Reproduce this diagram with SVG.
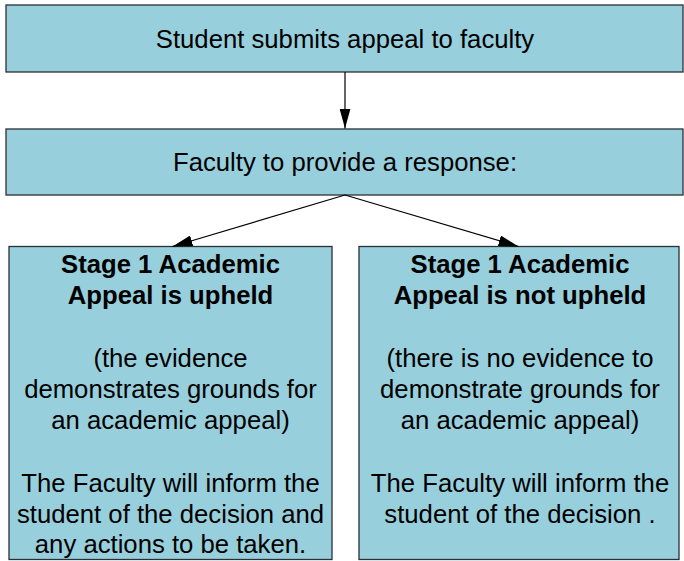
<svg xmlns="http://www.w3.org/2000/svg" width="684" height="561" viewBox="0 0 684 561">
<style>
.box{fill:#98cfdc;stroke:#2a3035;stroke-width:1.3}
.t{font-family:"Liberation Sans",Arial,sans-serif;font-size:25.7px;fill:#000;text-anchor:middle}
.b{font-weight:bold}
.c{stroke:#000;stroke-width:1.2;fill:none}
</style>
<defs>
<marker id="ah" markerUnits="userSpaceOnUse" markerWidth="20" markerHeight="11" refX="20" refY="5.5" orient="auto">
<path d="M0,0 L20,5.5 L0,11 z" fill="#000"/>
</marker>
</defs>
<g id="n1">
<rect class="box" x="6" y="5" width="677" height="67"/>
<text class="t" x="345" y="48">Student submits appeal to faculty</text>
</g>
<g id="n2">
<rect class="box" x="6" y="129" width="677" height="66"/>
<text class="t" x="345" y="170.5">Faculty to provide a response:</text>
</g>
<g id="n3">
<rect class="box" x="9" y="246.5" width="323" height="313"/>
<text class="t b" x="170.5" y="273.3">Stage 1 Academic</text>
<text class="t b" x="170.5" y="304.4">Appeal is upheld</text>
<text class="t" x="170.5" y="366.6">(the evidence</text>
<text class="t" x="170.5" y="397.7">demonstrates grounds for</text>
<text class="t" x="170.5" y="428.8">an academic appeal)</text>
<text class="t" x="170.5" y="491.7">The Faculty will inform the</text>
<text class="t" x="170.5" y="522.7">student of the decision and</text>
<text class="t" x="170.5" y="553.3">any actions to be taken.</text>
</g>
<g id="n4">
<rect class="box" x="359" y="246.5" width="320" height="313"/>
<text class="t b" x="520" y="273.3">Stage 1 Academic</text>
<text class="t b" x="520" y="304.4">Appeal is not upheld</text>
<text class="t" x="520" y="366.6">(there is no evidence to</text>
<text class="t" x="520" y="397.7">demonstrate grounds for</text>
<text class="t" x="520" y="428.8">an academic appeal)</text>
<text class="t" x="520" y="491.7">The Faculty will inform the</text>
<text class="t" x="520" y="522.7">student of the decision .</text>
</g>
<g id="connectors">
<line class="c" x1="345" y1="72" x2="345" y2="128.5" marker-end="url(#ah)"/>
<line class="c" x1="345" y1="195" x2="172.5" y2="246.5" marker-end="url(#ah)"/>
<line class="c" x1="345" y1="195" x2="518.5" y2="246.5" marker-end="url(#ah)"/>
</g>
</svg>
